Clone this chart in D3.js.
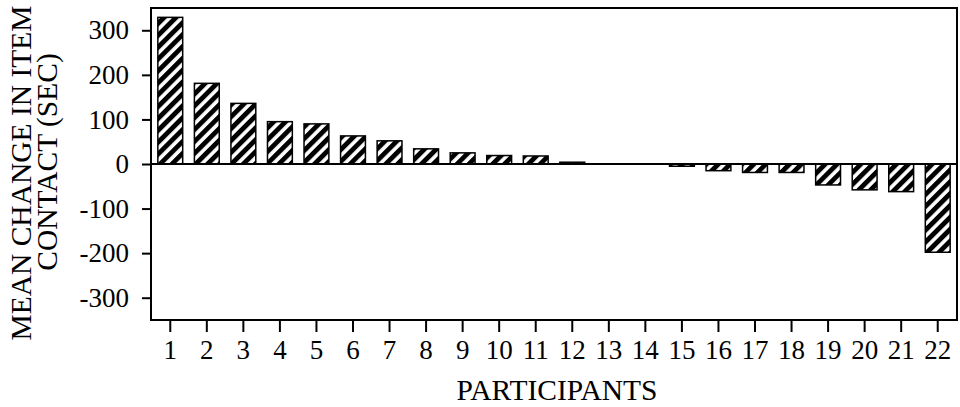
<!DOCTYPE html>
<html lang="en">

<head>
    <meta charset="UTF-8">
    <title>Mean change in item contact</title>
    <script src="https://d3js.org/d3.v7.min.js"></script>
    <style>
        body {
            margin: 0;
            background: #fff;
        }

        svg {
            display: block;
        }

        text {
            font-family: "Liberation Serif", "Times New Roman", serif;
            fill: #000;
        }

        .bar {
            fill: url(#hatch);
            stroke: #000;
            stroke-width: 1.5px;
        }
    </style>
</head>

<body>
    <svg></svg>
    <script>
        const width = 960;
        const height = 407;

        // participants and their mean change in item contact (sec)
        const participants = d3.range(1, 23).map(String);
        const changes = [329, 181, 136, 95, 90, 63, 52, 34, 25, 19, 18, 4,
            0, 0, -5, -15, -19, -19, -47, -58, -62, -198];
        const yTicks = [300, 200, 100, 0, -100, -200, -300];

        const margin = { top: 8, right: 3, bottom: 87, left: 151 };

        const svg = d3.select("svg")
            .attr("width", width)
            .attr("height", height);

        // diagonal hatch, like the printed figure
        const hatch = svg.append("defs").append("pattern")
            .attr("id", "hatch")
            .attr("patternUnits", "userSpaceOnUse")
            .attr("width", 8.4)
            .attr("height", 8.4)
            .attr("patternTransform", "rotate(45)");
        hatch.append("rect")
            .attr("width", 8.4)
            .attr("height", 8.4)
            .attr("fill", "#fff");
        hatch.append("rect")
            .attr("width", 4.8)
            .attr("height", 8.4)
            .attr("fill", "#000");

        const x = d3.scaleBand()
            .domain(participants)
            .range([margin.left + 1, width - margin.right - 1])
            .paddingInner(0.32)
            .paddingOuter(0.16);

        const y = d3.scaleLinear()
            .domain([-350, 350])
            .range([height - margin.bottom, margin.top]);

        // bars
        svg.append("g")
            .selectAll("rect")
            .data(changes)
            .enter().append("rect")
            .attr("class", "bar")
            .attr("x", (d, i) => x(participants[i]))
            .attr("width", x.bandwidth())
            .attr("y", d => y(Math.max(0, d)))
            .attr("height", d => Math.abs(y(d) - y(0)))
            .style("display", d => d === 0 ? "none" : null);

        // zero line
        svg.append("line")
            .attr("x1", margin.left)
            .attr("x2", width - margin.right)
            .attr("y1", y(0))
            .attr("y2", y(0))
            .attr("stroke", "#000")
            .attr("stroke-width", 2);

        // frame
        svg.append("rect")
            .attr("x", margin.left)
            .attr("y", margin.top)
            .attr("width", width - margin.left - margin.right)
            .attr("height", height - margin.top - margin.bottom)
            .attr("fill", "none")
            .attr("stroke", "#000")
            .attr("stroke-width", 2);

        const yAxis = svg.append("g")
            .attr("transform", `translate(${margin.left},0)`)
            .call(d3.axisLeft(y)
                .tickValues(yTicks)
                .tickFormat(d => String(d)) // plain hyphen, not the unicode minus
                .tickSize(9)
                .tickPadding(13));

        const xAxis = svg.append("g")
            .attr("transform", `translate(0,${height - margin.bottom})`)
            .call(d3.axisBottom(x).tickSize(12).tickPadding(8));

        [yAxis, xAxis].forEach(g => {
            g.select(".domain").remove();
            g.selectAll(".tick line").attr("stroke", "#000").attr("stroke-width", 2);
            g.selectAll(".tick text")
                .attr("fill", "#000")
                .style("font-family", "'Liberation Serif', serif")
                .style("font-size", "27px");
        });

        // axis titles
        const yTitle = svg.append("text")
            .attr("transform", "translate(0,172) rotate(-90)")
            .attr("text-anchor", "middle")
            .style("font-size", "29.5px");
        yTitle.append("tspan").attr("x", -1).attr("y", 31).text("MEAN CHANGE IN ITEM");
        yTitle.append("tspan").attr("x", 10).attr("y", 57).text("CONTACT (SEC)");

        svg.append("text")
            .attr("x", 557)
            .attr("y", 400)
            .attr("text-anchor", "middle")
            .style("font-size", "29.5px")
            .text("PARTICIPANTS");
    </script>
</body>

</html>
